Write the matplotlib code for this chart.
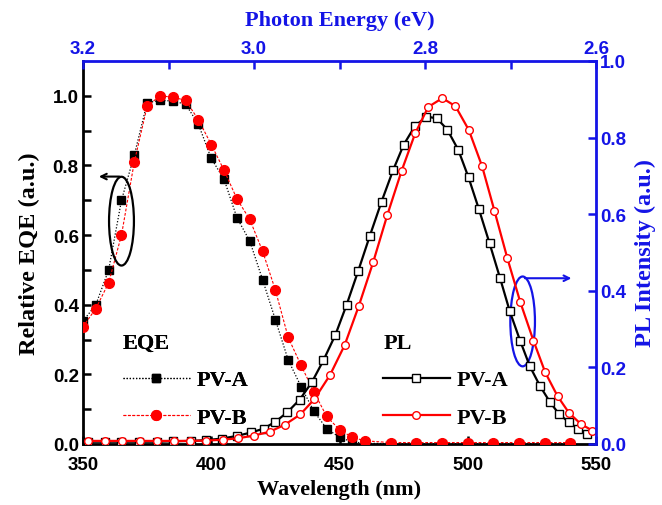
import numpy as np
import matplotlib
matplotlib.use("Agg")
import matplotlib.pyplot as plt
from matplotlib.patches import Ellipse
from matplotlib.lines import Line2D

# EQE data (left axis)
eqe_wl = [350, 355, 360, 365, 370, 375, 380, 385, 390, 395, 400, 405, 410, 415, 420,
          425, 430, 435, 440, 445, 450, 455, 460, 470, 480, 490, 500, 510, 520, 530, 540]
eqe_a = [0.353, 0.40, 0.50, 0.70, 0.83, 0.98, 0.987, 0.985, 0.976, 0.918, 0.82, 0.76,
         0.65, 0.583, 0.472, 0.357, 0.241, 0.165, 0.094, 0.044, 0.019, 0.006, 0.002,
         0.001, 0.001, 0.001, 0.001, 0.001, 0.001, 0.001, 0.001]
eqe_b = [0.337, 0.389, 0.463, 0.60, 0.81, 0.97, 1.0, 0.996, 0.987, 0.931, 0.86, 0.786,
         0.704, 0.645, 0.554, 0.442, 0.306, 0.226, 0.15, 0.079, 0.041, 0.019, 0.009,
         0.004, 0.004, 0.004, 0.004, 0.004, 0.004, 0.004, 0.004]

# PL data (right axis)
pl_a_wl = [352, 358.5, 365, 372, 379, 385, 392, 398, 404, 410, 415.5, 420.4, 425, 429.7,
           434.5, 439.2, 443.7, 448.4, 452.8, 457.3, 461.8, 466.4, 470.9, 475, 479.3,
           483.9, 488, 492, 496.3, 500.3, 504.3, 508.5, 512.6, 516.4, 520.4, 524.2,
           528.2, 532, 535.6, 539.4, 543.1, 546.6]
pl_a = [0.006, 0.006, 0.006, 0.006, 0.006, 0.007, 0.008, 0.010, 0.014, 0.021, 0.030,
        0.040, 0.058, 0.083, 0.116, 0.161, 0.218, 0.285, 0.364, 0.452, 0.543, 0.633,
        0.715, 0.781, 0.829, 0.855, 0.850, 0.821, 0.768, 0.696, 0.614, 0.524, 0.433,
        0.346, 0.270, 0.203, 0.151, 0.110, 0.078, 0.057, 0.039, 0.026]
pl_b_wl = [352, 358.5, 365.3, 372.1, 378.9, 385.3, 391.8, 398, 404.4, 410.6, 416.6, 422.8,
           428.6, 434.7, 440.2, 446.3, 452, 457.5, 463.1, 468.6, 474.2, 479.5, 484.6,
           490.1, 495.2, 500.4, 505.6, 510.4, 515.4, 520.5, 525.6, 530.2, 535, 539.5,
           544.1, 548.6]
pl_b = [0.008, 0.008, 0.008, 0.008, 0.008, 0.008, 0.008, 0.009, 0.011, 0.015, 0.022,
        0.032, 0.050, 0.077, 0.117, 0.180, 0.258, 0.360, 0.474, 0.597, 0.713, 0.811,
        0.880, 0.903, 0.882, 0.820, 0.725, 0.609, 0.486, 0.370, 0.270, 0.187, 0.125,
        0.081, 0.052, 0.035]

energy_ticks = [3.2, 3.0, 2.8, 2.6]

BLUE = '#1414e6'
serif = 'Liberation Serif'
sans = 'Liberation Sans'

fig = plt.figure(figsize=(6.62, 5.06), dpi=100)
ax = fig.add_axes([0.1254, 0.1206, 0.7749, 0.7569])
ax2 = ax.twinx()
ax3 = ax.twiny()

# EQE
ax.plot(eqe_wl, eqe_a, color='black', ls=(0, (1, 1.5)), lw=0.9,
        marker='s', ms=6, mfc='black', mec='black', zorder=3)
ax.plot(eqe_wl, eqe_b, color='red', ls=(0, (2.5, 1.5)), lw=0.8,
        marker='o', ms=7, mfc='red', mec='red', zorder=3)

# PL
ax2.plot(pl_a_wl, pl_a, color='black', lw=1.6, marker='s', ms=5.2,
         mfc='white', mec='black', mew=1.0)
ax2.plot(pl_b_wl, pl_b, color='red', lw=1.6, marker='o', ms=5.5,
         mfc='white', mec='red', mew=1.0)

ax.set_xlim(350, 550)
ax.set_ylim(0, 1.1)
ax2.set_ylim(0, 1.0)
ax3.set_xlim(3.2, 2.6)

# spines
for s in ['top', 'right']:
    ax.spines[s].set_visible(False)
for s in ['left', 'bottom', 'top']:
    ax2.spines[s].set_visible(False)
for s in ['left', 'bottom', 'right']:
    ax3.spines[s].set_visible(False)
ax.spines['left'].set_linewidth(2)
ax.spines['bottom'].set_linewidth(2)
ax2.spines['right'].set_linewidth(2)
ax2.spines['right'].set_color(BLUE)
ax3.spines['top'].set_linewidth(2)
ax3.spines['top'].set_color(BLUE)

# ticks
ax.set_xticks([350, 400, 450, 500, 550])
ax.set_yticks([0.0, 0.2, 0.4, 0.6, 0.8, 1.0])
ax.set_yticks(np.arange(0.1, 1.1, 0.2), minor=True)
ax.tick_params(axis='y', which='major', direction='in', length=6, width=1.8,
               labelsize=13.5, pad=3)
ax.tick_params(axis='x', which='major', direction='in', length=6, width=1.8,
               labelsize=13.5, pad=9)
ax.tick_params(axis='y', which='minor', direction='in', length=6, width=1.8)
ax.set_yticklabels(['%.1f' % v for v in ax.get_yticks()], fontfamily=sans, fontweight='bold')
ax.set_xticklabels([str(v) for v in [350, 400, 450, 500, 550]], fontfamily=sans,
                   fontweight='bold')

ax2.set_yticks([0.0, 0.2, 0.4, 0.6, 0.8, 1.0])
ax2.tick_params(axis='y', which='major', direction='in', length=6, width=1.8,
                labelsize=13.5, colors=BLUE, pad=3)
ax2.set_yticklabels(['%.1f' % v for v in ax2.get_yticks()], fontfamily=sans,
                    fontweight='bold')

ax3.set_xticks(energy_ticks)
ax3.set_xticks([3.1, 2.9, 2.7], minor=True)
ax3.tick_params(axis='x', which='both', direction='in', length=6, width=1.8,
                labelsize=13.5, colors=BLUE, pad=3)
ax3.set_xticklabels(['%.1f' % v for v in energy_ticks], fontfamily=sans, fontweight='bold')

ax.set_xlabel('Wavelength (nm)', fontfamily=serif, fontweight='bold', fontsize=16, labelpad=4)
ax.set_ylabel('Relative EQE (a.u.)', fontfamily=serif, fontweight='bold', fontsize=17.5,
              labelpad=9)
ax2.set_ylabel('PL Intensity (a.u.)', fontfamily=serif, fontweight='bold', fontsize=17.5,
               color=BLUE, labelpad=6)
ax3.set_xlabel('Photon Energy (eV)', fontfamily=serif, fontweight='bold', fontsize=16,
               color=BLUE, labelpad=11)

# ellipses with arrows
ax.add_patch(Ellipse((365, 0.64), 9.7, 0.255, fill=False, ec='black', lw=1.6, zorder=4))
ax.annotate('', xy=(355.1, 0.768), xytext=(365.3, 0.768),
            arrowprops=dict(arrowstyle='->', color='black', lw=1.5), zorder=4)
ax.add_patch(Ellipse((521.4, 0.352), 9.6, 0.258, fill=False, ec=BLUE, lw=1.6, zorder=4))
ax.annotate('', xy=(541.5, 0.476), xytext=(521.2, 0.476),
            arrowprops=dict(arrowstyle='->', color=BLUE, lw=1.5), zorder=4)

# legends
lg_font = dict(family=serif, weight='bold', size=16)
h_eqe = [Line2D([], [], color='black', ls=(0, (1, 1.5)), lw=0.9, marker='s', ms=6, mfc='black'),
         Line2D([], [], color='red', ls=(0, (2.5, 1.5)), lw=0.8, marker='o', ms=7, mfc='red', mec='red')]
leg1 = ax.legend(h_eqe, ['PV-A', 'PV-B'], title='EQE', loc='upper left',
                 bbox_to_anchor=(0.078, 0.29), frameon=False, prop=lg_font,
                 title_fontproperties=lg_font, handlelength=3.0, handletextpad=0.3,
                 labelspacing=0.76, borderaxespad=0, borderpad=0)
leg1._legend_box.align = 'left'
ax.add_artist(leg1)

h_pl = [Line2D([], [], color='black', lw=1.6, marker='s', ms=5.2, mfc='white', mec='black'),
        Line2D([], [], color='red', lw=1.6, marker='o', ms=5.5, mfc='white', mec='red')]
leg2 = ax2.legend(h_pl, ['PV-A', 'PV-B'], title='PL', loc='upper left',
                  bbox_to_anchor=(0.585, 0.29), frameon=False, prop=lg_font,
                  title_fontproperties=lg_font, handlelength=3.0, handletextpad=0.3,
                  labelspacing=0.76, borderaxespad=0, borderpad=0)
leg2._legend_box.align = 'left'

fig.savefig('out.png', dpi=100)
